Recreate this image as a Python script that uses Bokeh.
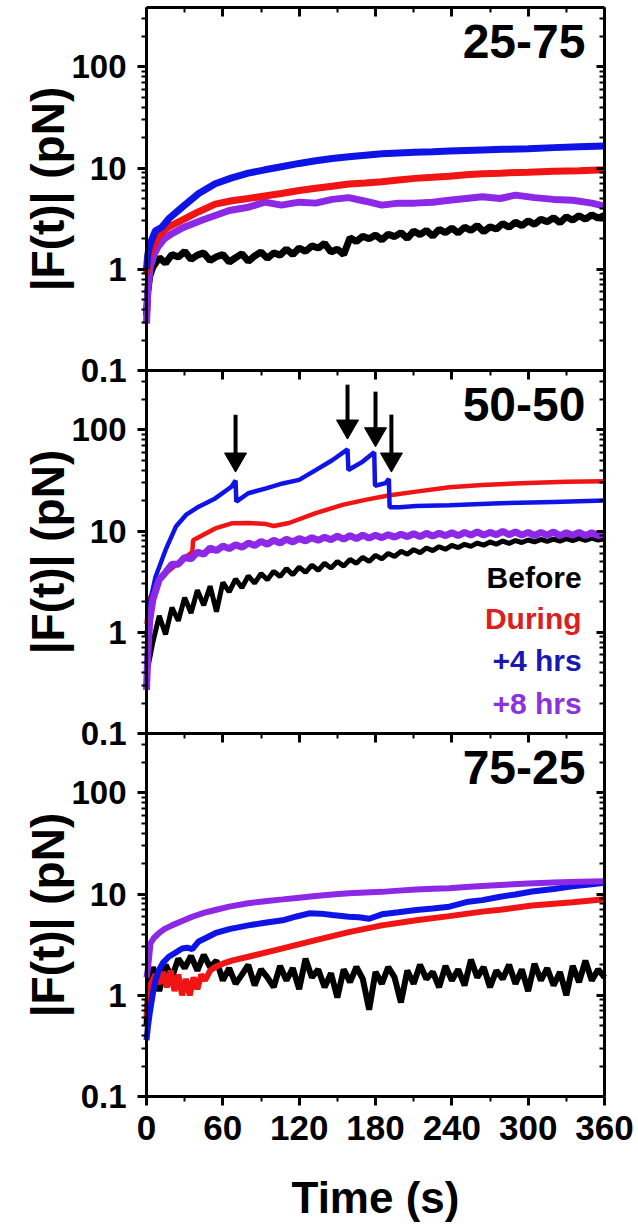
import math
from bokeh.plotting import figure
from bokeh.models import (Range1d, LinearAxis, LogAxis, FixedTicker, LogScale,
                          ColumnDataSource, CustomJSTickFormatter)
from bokeh.embed import file_html
from bokeh.resources import INLINE
from bokeh.core.properties import value

FONT = "Liberation Sans"

# ---------------- data ----------------
# sampling times for the noisy traces (s)
t_grid = [0, 1, 2.5] + list(range(5, 361, 5))

# ----- panel 1 : 25-75 -----
p1_black = [0.35, 0.6, 0.85, 1.05, 1.30, 1.15, 1.40, 1.32, 1.50, 1.25, 1.38, 1.45, 1.22, 1.33, 1.40,
            1.18, 1.30, 1.42, 1.20, 1.35, 1.48, 1.28, 1.45, 1.38, 1.58, 1.40, 1.62,
            1.50, 1.70, 1.62, 1.80, 1.48, 1.58, 1.40, 2.05, 1.88, 2.12, 2.00, 2.18,
            1.95, 2.22, 2.10, 2.30, 2.02, 2.38, 2.20, 2.42, 2.12, 2.48, 2.30, 2.55,
            2.28, 2.60, 2.42, 2.70, 2.35, 2.62, 2.50, 2.82, 2.60, 2.92, 2.70, 3.00,
            2.78, 3.12, 2.95, 3.22, 2.88, 3.30, 3.05, 3.38, 3.12, 3.45, 3.20, 3.40]

p1_red_t = [0, 2, 4, 9, 17, 28, 41, 54, 67, 80, 93, 106, 120, 133, 146, 159, 172, 185, 198, 211,
            225, 238, 251, 264, 278, 300, 320, 340, 360]
p1_red = [0.9, 1.3, 1.54, 2.1, 2.6, 3.05, 3.7, 4.4, 4.75, 5.0, 5.3, 5.6, 6.0, 6.3, 6.6, 6.95, 7.1, 7.3, 7.6, 7.9,
          8.1, 8.3, 8.6, 8.8, 8.9, 9.1, 9.3, 9.4, 9.6]

p1_blue_t = [0, 1, 3, 7, 12, 18, 28, 41, 54, 67, 80, 93, 106, 120, 133, 146, 159, 172, 185, 198,
             211, 225, 238, 251, 264, 280, 300, 320, 340, 360]
p1_blue = [1.0, 1.4, 1.8, 2.4, 2.6, 3.2, 4.1, 5.6, 7.0, 8.0, 8.9, 9.6, 10.3, 11.1, 11.8, 12.4, 12.9, 13.4, 13.8, 14.1,
           14.3, 14.5, 14.7, 14.9, 15.1, 15.3, 15.5, 15.9, 16.2, 16.5]

p1_purple_t = [0, 1, 3, 6, 9, 14, 20, 28, 36, 45, 54, 65, 80, 93, 106, 120, 133, 146, 159, 172,
               185, 198, 211, 225, 238, 251, 264, 278, 290, 305, 320, 335, 350, 360]
p1_purple = [0.29, 0.62, 1.05, 1.4, 1.66, 2.0, 2.25, 2.55, 2.8, 3.1, 3.4, 3.8, 4.1, 4.6, 4.3, 4.6, 4.5, 4.9, 5.1, 4.7,
             4.3, 4.5, 4.5, 4.6, 4.8, 5.0, 5.2, 5.0, 5.4, 5.1, 4.9, 4.8, 4.5, 4.2]

# ----- panel 2 : 50-50 -----
p2_black = [0.30, 0.45, 0.55, 0.80, 1.45, 0.95, 1.75, 1.30, 2.20, 1.55, 2.60, 1.85, 2.85, 1.60, 3.10,
            2.50, 3.35, 2.75, 3.60, 3.05, 3.80, 3.30, 4.00, 3.55, 4.25, 3.70, 4.40,
            3.90, 4.60, 4.10, 4.80, 4.30, 5.00, 4.50, 5.25, 4.80, 5.50, 5.00, 5.75,
            5.30, 6.00, 5.60, 6.30, 5.90, 6.55, 6.10, 6.80, 6.40, 7.00, 6.60, 7.20,
            6.85, 7.40, 7.05, 7.60, 7.25, 7.80, 7.40, 7.95, 7.55, 8.05, 7.70, 8.15,
            7.80, 8.25, 7.90, 8.30, 7.95, 8.40, 8.05, 8.45, 8.10, 8.50, 8.15, 8.40]

p2_red_t = [0, 2, 10, 15, 28, 36, 36.6, 44, 54, 67, 80, 94, 100, 112, 133, 154, 172, 190, 212, 238,
            264, 300, 330, 360]
p2_red = [1.2, 2.1, 3.3, 3.8, 5.2, 6.2, 8.1, 9.1, 10.6, 11.9, 12.0, 11.7, 11.2, 12.0, 15.0, 18.1, 20.3, 22.4, 24.5, 27.1,
          28.5, 29.8, 30.6, 31.0]

p2_blue_t = [0, 2, 7, 15, 23, 31, 41, 54, 67, 70, 70.6, 80, 94, 107, 120, 133, 146, 158, 158.7, 170,
             179, 179.6, 188, 190.5, 191.1, 199, 212, 238, 278, 320, 360]
p2_blue = [0.9, 1.8, 3.5, 6.5, 11, 14.4, 17.4, 21, 27.5, 31.5, 19.5, 23.6, 26.4, 29.5, 32, 40, 50, 64, 40, 48.5,
           60, 28, 29.7, 32.7, 17.2, 17.2, 17.7, 18, 18.8, 19.4, 20]

p2_purple = [0.27, 0.6, 1.3, 2.1, 3.3, 3.9, 4.7, 4.7, 5.5, 5.3, 6.2, 5.9, 6.8, 6.4, 7.1,
             6.7, 7.3, 6.9, 7.6, 7.2, 7.9, 7.4, 8.1, 7.6, 8.3, 7.8, 8.4,
             8.0, 8.6, 8.1, 8.7, 8.2, 8.9, 8.3, 9.0, 8.4, 9.1, 8.5, 9.1,
             8.6, 9.2, 8.7, 9.3, 8.8, 9.4, 8.8, 9.5, 8.9, 9.5, 9.0, 9.6,
             9.0, 9.7, 9.1, 9.8, 9.1, 9.7, 9.2, 9.9, 9.2, 9.8, 9.1, 9.7,
             9.0, 9.7, 9.1, 9.8, 9.0, 9.6, 9.1, 9.7, 9.0, 9.6, 9.0, 9.4]

# ----- panel 3 : 75-25 -----
p3_black = [0.5, 0.9, 1.3, 1.9, 1.1, 2.0, 1.5, 2.3, 1.85, 2.45, 1.75, 2.5, 1.9, 2.2, 1.4,
            1.85, 1.3, 1.6, 2.0, 1.25, 1.8, 1.5, 1.2, 1.95, 1.4, 1.85, 1.15,
            2.3, 1.5, 1.8, 1.2, 1.65, 0.95, 1.8, 1.35, 1.9, 1.45, 0.72, 1.7,
            1.3, 1.9, 1.5, 0.85, 1.75, 1.3, 2.0, 1.45, 1.7, 1.2, 1.95, 1.4,
            1.8, 1.25, 2.25, 1.5, 1.9, 1.2, 1.75, 1.45, 2.0, 1.3, 1.8, 1.1,
            2.05, 1.4, 1.85, 1.25, 1.7, 1.0, 1.95, 1.35, 2.2, 1.4, 1.8, 1.5]

p3_red_t = [0, 1.5, 4, 7, 10, 13, 16, 19, 22, 25, 28, 31, 34, 37, 40, 43, 46, 50, 54, 60,
            67, 80, 107, 133, 159, 185, 212, 238, 264, 278, 303, 335, 360]
p3_red = [0.6, 1.1, 1.35, 1.6, 1.3, 1.7, 1.2, 1.75, 1.1, 1.6, 1.0, 1.45, 1.0, 1.5, 1.15, 1.6, 1.4, 1.75, 1.9, 2.05,
          2.2, 2.4, 2.9, 3.5, 4.2, 4.9, 5.5, 6.05, 6.7, 7.0, 7.7, 8.3, 8.9]

p3_blue_t = [0, 1.2, 2.5, 5, 7, 9.7, 13, 17.5, 22, 28, 32, 36, 41, 47, 54, 65, 80, 93, 107, 118,
             128, 137, 146, 159, 167, 175, 185, 198, 212, 225, 238, 253, 264, 278, 290, 303, 320, 335, 350, 360]
p3_blue = [0.36, 0.5, 0.66, 1.04, 1.4, 1.77, 2.1, 2.4, 2.6, 2.9, 2.95, 2.85, 3.4, 3.7, 4.1, 4.5, 4.9, 5.2, 5.5, 6.0,
           6.45, 6.4, 6.2, 5.96, 5.9, 5.7, 6.3, 6.6, 6.95, 7.2, 7.5, 8.4, 8.7, 9.4, 9.9, 10.6, 11.2, 11.9, 12.5, 12.9]

p3_purple_t = [0, 1, 1.8, 3.1, 6, 9.7, 14, 20, 28, 36, 45, 54, 65, 80, 93, 107, 120, 133, 146, 159,
               172, 185, 198, 212, 225, 238, 251, 264, 278, 300, 320, 340, 360]
p3_purple = [1.5, 1.8, 2.2, 3.25, 3.7, 4.1, 4.5, 4.9, 5.4, 5.96, 6.5, 6.95, 7.5, 8.1, 8.5, 8.85, 9.2, 9.55, 9.9, 10.2,
             10.35, 10.5, 10.8, 11.1, 11.25, 11.4, 11.7, 12.0, 12.3, 12.7, 13.0, 13.2, 13.4]

# arrows (panel 2): time, top of shaft, centre of the head (pN)
arrow_t = [70, 158, 180, 192.5]
arrow_top = [141, 279, 238, 141]
arrow_head = [51, 108, 90.6, 51]

panel_titles = ["25-75", "50-50", "75-25"]
legend_labels = ["Before", "During", "+4 hrs", "+8 hrs"]
legend_y = [3.46, 1.37, 0.53, 0.20]
y_axis_title = "|F(t)| (pN)"
x_axis_title = "Time (s)"

x_major = [0, 60, 120, 180, 240, 300, 360]
x_minor = [30, 90, 150, 210, 270, 330]
y_major = [0.1, 1, 10, 100]
y_labels = ["0.1", "1", "10", "100"]
y_minor = [0.2, 0.3, 0.4, 0.5, 0.6, 0.7, 0.8, 0.9, 2, 3, 4, 5, 6, 7, 8, 9,
           20, 30, 40, 50, 60, 70, 80, 90, 200, 300]

# ---------------- style / layout ----------------
C_BLACK = "#000000"
C_RED = "#f01414"
C_BLUE = "#0f14e6"
C_PURPLE = "#8c28e6"
legend_colors = ["#000000", "#dc2020", "#1818b4", "#8c32dc"]

FRAME_W = 458          # px for 0..360 s
PANEL_H = 363          # px per panel
LEFT_PAD = 146
RIGHT_PAD = 30
TOP_PAD = 7
BOTTOM_PAD = 129
Y_BOTTOM = 0.1
Y_TOP = 385
TITLE_X = 345
TITLE_Y = 176
LEGEND_X = 342
YLABEL_MID = 6.2
YLABEL_DX = -99        # px left of the y axis
XLABEL_DROP = 101      # px below the bottom axis

D = math.log10(Y_TOP / Y_BOTTOM)      # decades per panel
PPD = PANEL_H / D                     # px per decade
XPX = FRAME_W / 360.0                 # px per second
top_ext = 10 ** (TOP_PAD / PPD)
bot_ext = 10 ** (-BOTTOM_PAD / PPD)
names = ["p1", "p2", "p3"]
shift = [10 ** (-k * D) for k in range(3)]          # panel value -> common axis value


def panel_range(k):
    return Range1d(Y_BOTTOM * 10 ** (-(2 - k) * D) * bot_ext, Y_TOP * 10 ** (k * D) * top_ext)


p = figure(frame_width=LEFT_PAD + FRAME_W + RIGHT_PAD,
           frame_height=TOP_PAD + 3 * PANEL_H + BOTTOM_PAD,
           x_range=Range1d(-LEFT_PAD / XPX, 360 + RIGHT_PAD / XPX),
           y_range=panel_range(0),
           y_axis_type="log",
           x_axis_location=None, y_axis_location=None,
           extra_y_ranges={n: panel_range(k) for k, n in enumerate(names)},
           extra_y_scales={n: LogScale() for n in names},
           toolbar_location=None, output_backend="svg",
           min_border=0)
p.grid.visible = False
p.outline_line_color = None
p.background_fill_color = "white"
p.border_fill_color = "white"

all_major = [v * s for s in shift for v in y_major]
all_minor = [v * s for s in shift for v in y_minor]
overrides = {v * s: lab for s in shift for v, lab in zip(y_major, y_labels)}
yticker = FixedTicker(ticks=all_major, minor_ticks=all_minor)
xticker = FixedTicker(ticks=x_major, minor_ticks=x_minor)
blank = CustomJSTickFormatter(code="return ''")
ybounds = (Y_BOTTOM * shift[2], Y_TOP)
xbounds = (0, 360)

common = dict(major_tick_line_width=3, minor_tick_line_width=2, axis_line_width=3)

left = LogAxis(fixed_location=0, bounds=ybounds, ticker=yticker,
               major_label_overrides=overrides,
               major_tick_out=9, major_tick_in=0, minor_tick_out=5, minor_tick_in=0,
               major_label_text_font=FONT, major_label_text_font_size="33px",
               major_label_text_font_style="bold", major_label_text_color="black",
               major_label_standoff=11, **common)
p.add_layout(left, "left")

right = LogAxis(fixed_location=360, bounds=ybounds, ticker=yticker, formatter=blank,
                major_tick_in=8, major_tick_out=0, minor_tick_in=5, minor_tick_out=0,
                major_label_text_font_size="1px", major_label_standoff=0, **common)
p.add_layout(right, "right")

# top edge and the two panel boundaries: inward ticks
for loc in [Y_TOP, Y_BOTTOM * shift[0], Y_BOTTOM * shift[1]]:
    p.add_layout(LinearAxis(fixed_location=loc, bounds=xbounds, ticker=xticker, formatter=blank,
                            major_tick_in=9, major_tick_out=0, minor_tick_in=5, minor_tick_out=0,
                            major_label_text_font_size="1px", major_label_standoff=0, **common),
                 "above")

bottom = LinearAxis(fixed_location=Y_BOTTOM * shift[2], bounds=xbounds, ticker=xticker,
                    major_tick_out=9, major_tick_in=0, minor_tick_out=5, minor_tick_in=0,
                    major_label_text_font=FONT, major_label_text_font_size="35px",
                    major_label_text_font_style="bold", major_label_text_color="black",
                    major_label_standoff=10, **common)
p.add_layout(bottom, "below")

for k, n in enumerate(names):
    p.text(x=[TITLE_X], y=[TITLE_Y], text=[panel_titles[k]], y_range_name=n,
           text_align="right", text_baseline="alphabetic", text_font=value(FONT),
           text_font_style="bold", text_font_size="48px", text_color="black")
    p.text(x=[0], y=[YLABEL_MID], text=[y_axis_title], y_range_name=n,
           x_offset=YLABEL_DX, angle=math.pi / 2,
           text_align="center", text_baseline="middle", text_font=value(FONT),
           text_font_style="bold", text_font_size="46px", text_color="black")

p.text(x=[180], y=[Y_BOTTOM * 10 ** (-XLABEL_DROP / PPD)], text=[x_axis_title], y_range_name="p3",
       text_align="center", text_baseline="alphabetic", text_font=value(FONT),
       text_font_style="bold", text_font_size="44px", text_color="black")

# panel 1
p.line(t_grid, p1_black, y_range_name="p1", line_color=C_BLACK, line_width=7)
p.line(p1_purple_t, p1_purple, y_range_name="p1", line_color=C_PURPLE, line_width=7)
p.line(p1_red_t, p1_red, y_range_name="p1", line_color=C_RED, line_width=7)
p.line(p1_blue_t, p1_blue, y_range_name="p1", line_color=C_BLUE, line_width=7)

# panel 2
p.line(t_grid, p2_black, y_range_name="p2", line_color=C_BLACK, line_width=5)
p.line(p2_red_t, p2_red, y_range_name="p2", line_color=C_RED, line_width=4.5)
p.line(p2_blue_t, p2_blue, y_range_name="p2", line_color=C_BLUE, line_width=4.5)
p.line(t_grid, p2_purple, y_range_name="p2", line_color=C_PURPLE, line_width=7)

arrow_src = ColumnDataSource(dict(x=arrow_t, y0=arrow_top, y1=arrow_head))
p.segment(x0="x", y0="y0", x1="x", y1="y1", source=arrow_src, y_range_name="p2",
          line_width=4, line_color="black")
p.scatter(x="x", y="y1", source=arrow_src, y_range_name="p2", marker="inverted_triangle",
          size=22, fill_color="black", line_color="black")

leg_src = ColumnDataSource(dict(x=[LEGEND_X] * len(legend_labels), y=legend_y,
                                text=legend_labels, color=legend_colors))
p.text(x="x", y="y", text="text", text_color="color", source=leg_src, y_range_name="p2",
       text_align="right", text_baseline="alphabetic", text_font=value(FONT),
       text_font_style="bold", text_font_size="30px")

# panel 3
p.line(t_grid, p3_black, y_range_name="p3", line_color=C_BLACK, line_width=6)
p.line(p3_red_t, p3_red, y_range_name="p3", line_color=C_RED, line_width=6)
p.line(p3_blue_t, p3_blue, y_range_name="p3", line_color=C_BLUE, line_width=6)
p.line(p3_purple_t, p3_purple, y_range_name="p3", line_color=C_PURPLE, line_width=6)

open("out.html", "w").write(file_html(p, INLINE))
